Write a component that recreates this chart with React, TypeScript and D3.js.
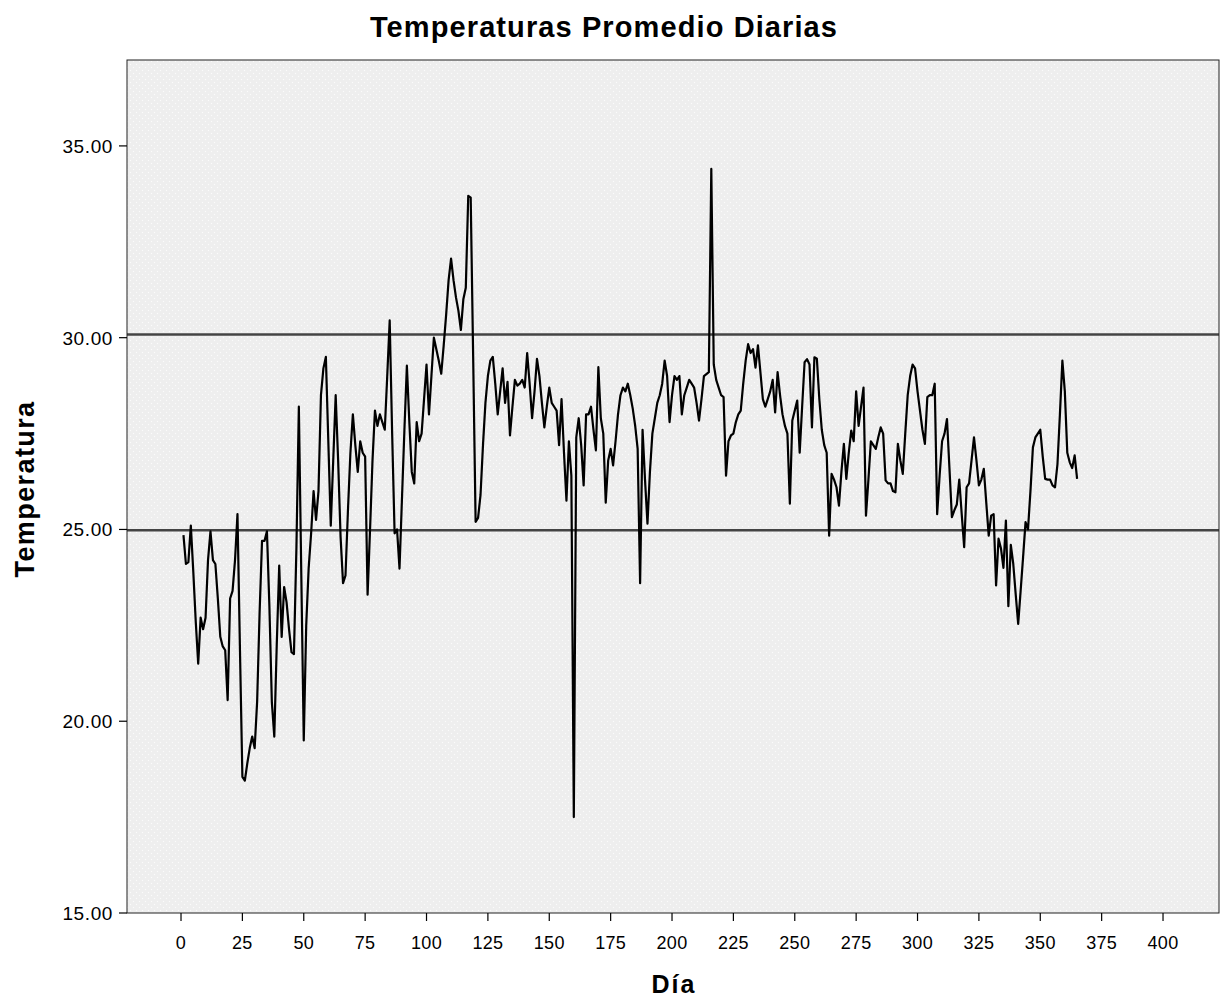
import React from "react";
import * as d3 from "d3";

const temps: number[] = [
  24.85, 24.1, 24.15, 25.1, 23.9, 22.6, 21.5, 22.7, 22.4, 22.7,
  24.2, 24.95, 24.2, 24.1, 23.2, 22.2, 21.95, 21.85, 20.55, 23.2,
  23.4, 24.2, 25.4, 21.9, 18.55, 18.45, 18.9, 19.3, 19.6, 19.3,
  20.5, 22.8, 24.7, 24.7, 24.95, 23.0, 20.5, 19.6, 22.0, 24.06,
  22.2, 23.5, 23.1, 22.4, 21.8, 21.75, 24.5, 28.2, 23.8, 19.5,
  22.5, 24.0, 24.9, 26.0, 25.25, 26.0, 28.5, 29.2, 29.5, 27.3,
  25.1, 26.8, 28.5, 26.8, 24.8, 23.6, 23.8, 25.5, 27.0, 28.0,
  27.2, 26.5, 27.3, 27.0, 26.9, 23.3, 25.0, 26.8, 28.1, 27.7,
  28.0, 27.8, 27.6, 29.0, 30.45, 27.5, 24.9, 25.0, 23.98, 25.8,
  27.6, 29.27, 27.8, 26.5, 26.2, 27.8, 27.3, 27.5, 28.4, 29.3,
  28.0, 29.0, 30.0, 29.7, 29.4, 29.06, 29.8, 30.6, 31.5, 32.06,
  31.5, 31.05, 30.7, 30.2, 31.0, 31.3, 33.7, 33.65, 29.5, 25.2,
  25.3, 25.9, 27.2, 28.3, 29.0, 29.4, 29.5, 28.8, 28.0, 28.6,
  29.2, 28.3, 28.85, 27.45, 28.2, 28.9, 28.75, 28.8, 28.9, 28.7,
  29.6, 28.8, 27.9, 28.6, 29.45, 29.0, 28.3, 27.66, 28.2, 28.7,
  28.3, 28.2, 28.1, 27.2, 28.4, 27.0, 25.75, 27.3, 26.4, 17.5,
  27.4, 27.9, 27.2, 26.15, 28.0, 28.0, 28.2, 27.6, 27.06, 29.23,
  27.9, 27.5, 25.7, 26.8, 27.1, 26.67, 27.3, 28.0, 28.5, 28.7,
  28.6, 28.8, 28.5, 28.15, 27.7, 27.1, 23.6, 27.6, 26.3, 25.15,
  26.5, 27.5, 27.9, 28.3, 28.5, 28.8, 29.4, 29.0, 27.8, 28.5,
  29.0, 28.9, 29.0, 28.0, 28.5, 28.7, 28.9, 28.8, 28.7, 28.3,
  27.84, 28.4, 29.0, 29.05, 29.1, 34.4, 29.3, 28.9, 28.7, 28.5,
  28.45, 26.4, 27.3, 27.45, 27.5, 27.8, 28.0, 28.1, 28.8, 29.4,
  29.83, 29.6, 29.7, 29.22, 29.8, 29.1, 28.4, 28.2, 28.4, 28.6,
  28.9, 28.05, 29.1, 28.5, 28.0, 27.7, 27.5, 25.67, 27.84, 28.1,
  28.36, 27.0, 28.2, 29.36, 29.44, 29.3, 27.66, 29.49, 29.45, 28.4,
  27.6, 27.2, 27.0, 24.84, 26.45, 26.3, 26.1, 25.62, 26.5, 27.23,
  26.32, 27.0, 27.58, 27.3, 28.6, 27.7, 28.2, 28.7, 25.36, 26.3,
  27.3, 27.2, 27.1, 27.4, 27.66, 27.5, 26.28, 26.2, 26.2, 26.0,
  25.97, 27.23, 26.8, 26.45, 27.5, 28.5, 29.0, 29.3, 29.2, 28.6,
  28.1, 27.6, 27.23, 28.45, 28.5, 28.5, 28.8, 25.4, 26.4, 27.3,
  27.5, 27.88, 26.6, 25.32, 25.5, 25.65, 26.3, 25.4, 24.54, 26.1,
  26.2, 26.8, 27.4, 26.8, 26.15, 26.3, 26.58, 25.7, 24.84, 25.36,
  25.4, 23.54, 24.76, 24.5, 24.0, 25.23, 23.0, 24.6, 24.1, 23.3,
  22.54, 23.4, 24.28, 25.19, 25.0, 26.0, 27.14, 27.4, 27.5, 27.6,
  26.9, 26.32, 26.3, 26.3, 26.15, 26.1, 26.7, 28.0, 29.4, 28.6,
  27.0, 26.75, 26.6, 26.93, 26.32,
];

const xTicks: number[] = [0, 25, 50, 75, 100, 125, 150, 175, 200, 225, 250, 275, 300, 325, 350, 375, 400];
const yTicks: number[] = [15, 20, 25, 30, 35];
const refLines: number[] = [24.98, 30.08];

const TITLE = "Temperaturas Promedio Diarias";
const X_LABEL = "Día";
const Y_LABEL = "Temperatura";

export default function App() {
  const W = 1221;
  const H = 1002;
  const left = 127;
  const right = 1219;
  const top = 60;
  const bottom = 913;

  const x = d3.scaleLinear().domain([-22, 422.8]).range([left, right]);
  const y = d3.scaleLinear().domain([15, 37.24]).range([bottom, top]);

  const data = temps.map((v, i) => ({ day: i + 1, v }));
  const line = d3
    .line<{ day: number; v: number }>()
    .x((d) => x(d.day))
    .y((d) => y(d.v));

  const font = "'Liberation Sans', Arial, sans-serif";

  return (
    <svg
      width={W}
      height={H}
      style={{ position: "absolute", left: 0, top: 0, background: "#fff" }}
    >
      <defs>
        <pattern id="dots" width="6" height="6" patternUnits="userSpaceOnUse">
          <rect width="6" height="6" fill="#eeeeee" />
          <circle cx="1.5" cy="1.5" r="0.7" fill="#fbfbfb" />
          <circle cx="4.5" cy="4.5" r="0.7" fill="#fbfbfb" />
        </pattern>
        <clipPath id="plotclip">
          <rect x={left} y={top} width={right - left} height={bottom - top} />
        </clipPath>
      </defs>
      <rect x={left} y={top} width={right - left} height={bottom - top} fill="url(#dots)" />

      {refLines.map((r) => (
        <line
          key={r}
          x1={left}
          x2={right}
          y1={y(r)}
          y2={y(r)}
          stroke="#444"
          strokeWidth={2.5}
        />
      ))}

      <path
        d={line(data) || ""}
        fill="none"
        stroke="#000"
        strokeWidth={2.2}
        strokeLinejoin="round"
        clipPath="url(#plotclip)"
      />

      <rect
        x={left}
        y={top}
        width={right - left}
        height={bottom - top}
        fill="none"
        stroke="#222"
        strokeWidth={1}
      />

      {yTicks.map((t) => (
        <g key={t}>
          <line x1={left - 8} x2={left} y1={y(t)} y2={y(t)} stroke="#000" strokeWidth={1.2} />
          <text
            x={left - 14}
            y={y(t)}
            dy="0.36em"
            textAnchor="end"
            fontFamily={font}
            fontSize={19}
            letterSpacing={0.6}
            fill="#000"
          >
            {t.toFixed(2)}
          </text>
        </g>
      ))}

      {xTicks.map((t) => (
        <g key={t}>
          <line x1={x(t)} x2={x(t)} y1={bottom} y2={bottom + 8} stroke="#000" strokeWidth={1.2} />
          <text
            x={x(t)}
            y={bottom + 36}
            textAnchor="middle"
            fontFamily={font}
            fontSize={18}
            letterSpacing={0.3}
            fill="#000"
          >
            {t}
          </text>
        </g>
      ))}

      <text
        x={604}
        y={37}
        textAnchor="middle"
        fontFamily={font}
        fontSize={29}
        fontWeight="bold"
        letterSpacing={1.1}
        fill="#000"
      >
        {TITLE}
      </text>

      <text
        x={674}
        y={993}
        textAnchor="middle"
        fontFamily={font}
        fontSize={25}
        fontWeight="bold"
        letterSpacing={2}
        fill="#000"
      >
        {X_LABEL}
      </text>

      <text
        transform={`translate(34, 489) rotate(-90)`}
        textAnchor="middle"
        fontFamily={font}
        fontSize={27}
        fontWeight="bold"
        letterSpacing={1.4}
        fill="#000"
      >
        {Y_LABEL}
      </text>
    </svg>
  );
}
